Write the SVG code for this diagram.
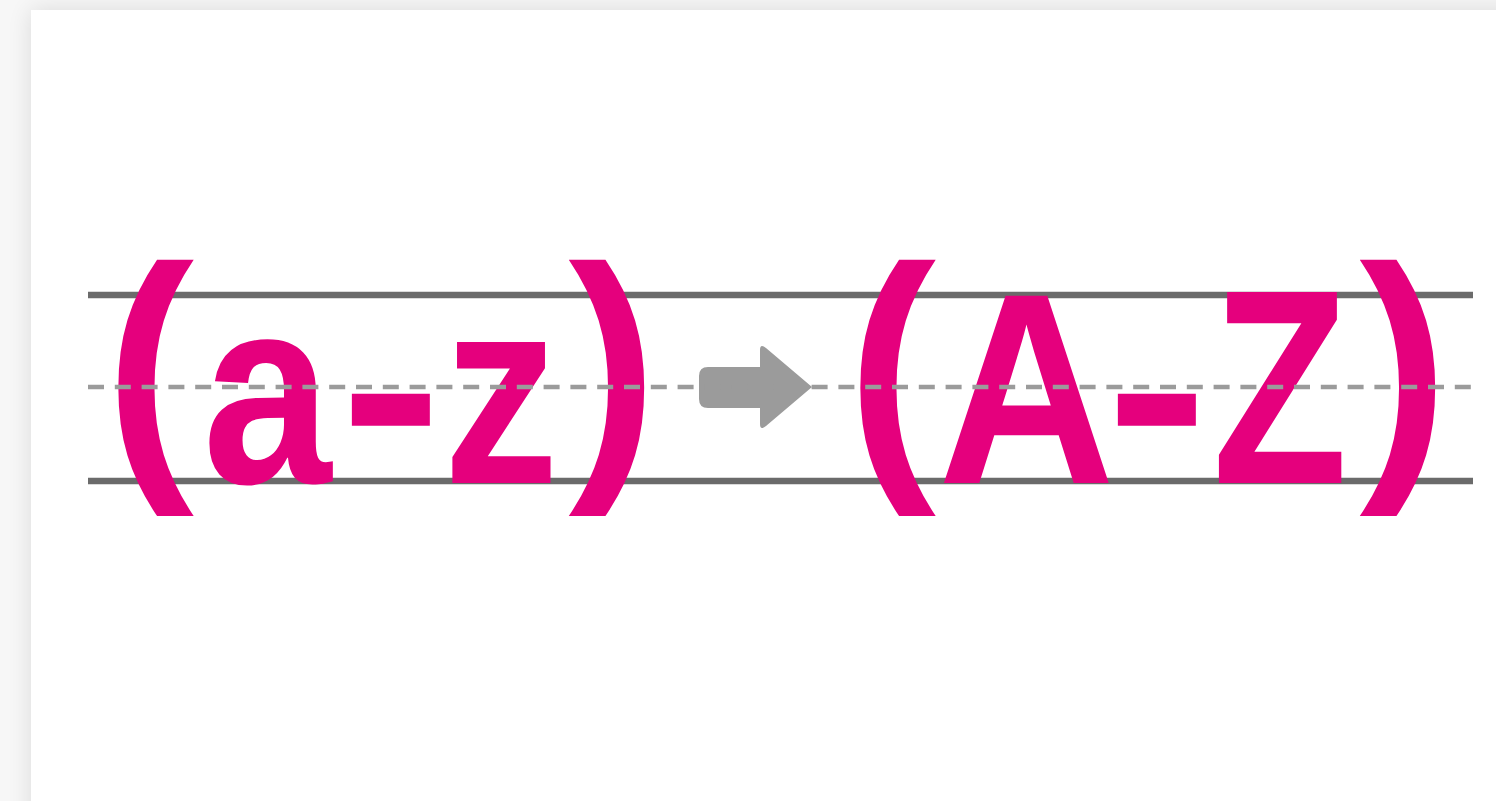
<svg xmlns="http://www.w3.org/2000/svg" width="1496" height="801" viewBox="0 0 1496 801">
<defs>
<filter id="sh" x="-5%" y="-5%" width="110%" height="110%">
<feGaussianBlur in="SourceAlpha" stdDeviation="12"/>
<feComponentTransfer><feFuncA type="linear" slope="0.12"/></feComponentTransfer>
<feMerge><feMergeNode/><feMergeNode in="SourceGraphic"/></feMerge>
</filter>
<style>
.g{font-family:"Liberation Sans Narrow","Liberation Sans",sans-serif;font-weight:bold;font-size:267px;fill:#e5007d;text-anchor:middle}
.solid{stroke:#6b6b6b;stroke-width:6.5}
.dash{stroke:#9b9b9b;stroke-width:4.5;stroke-dasharray:16 10.8}
</style>
</defs>
<rect x="0" y="0" width="1496" height="801" fill="#f7f7f7"/>
<rect x="31" y="10" width="1520" height="830" fill="#ffffff" filter="url(#sh)"/>
<g id="guides">
<line class="solid" x1="88" y1="295" x2="1473" y2="295"/>
<line class="solid" x1="88" y1="481" x2="1473" y2="481"/>
</g>
<g id="lowercase">
<text class="g" transform="translate(149.5 459) scale(1 1.03)">(</text>
<text class="g" transform="translate(267 483) scale(0.867 1)">a</text>
<text class="g" transform="translate(391 479) scale(1.15 1)">-</text>
<text class="g" transform="translate(501 483) scale(0.867 1)">z</text>
<text class="g" transform="translate(613 459) scale(1 1.03)">)</text>
</g>
<g id="uppercase">
<text class="g" transform="translate(891.5 459) scale(1 1.03)">(</text>
<text class="g" transform="translate(1026.5 483) scale(0.92 1.02)">A</text>
<text class="g" transform="translate(1157 479) scale(1.15 1)">-</text>
<text class="g" transform="translate(1280 483) scale(0.83 1.04)">Z</text>
<text class="g" transform="translate(1404 459) scale(1 1.03)">)</text>
</g>
<g id="connectors">
<path d="M708 367 L760 367 L760 350 Q760 343 766 348 L812 387 L766 426 Q760 431 760 424 L760 408 L708 408 Q699 408 699 399 L699 376 Q699 367 708 367 Z" fill="#9b9b9b"/>
</g>
<g id="midline">
<line class="dash" x1="88" y1="387" x2="1473" y2="387"/>
</g>
</svg>
